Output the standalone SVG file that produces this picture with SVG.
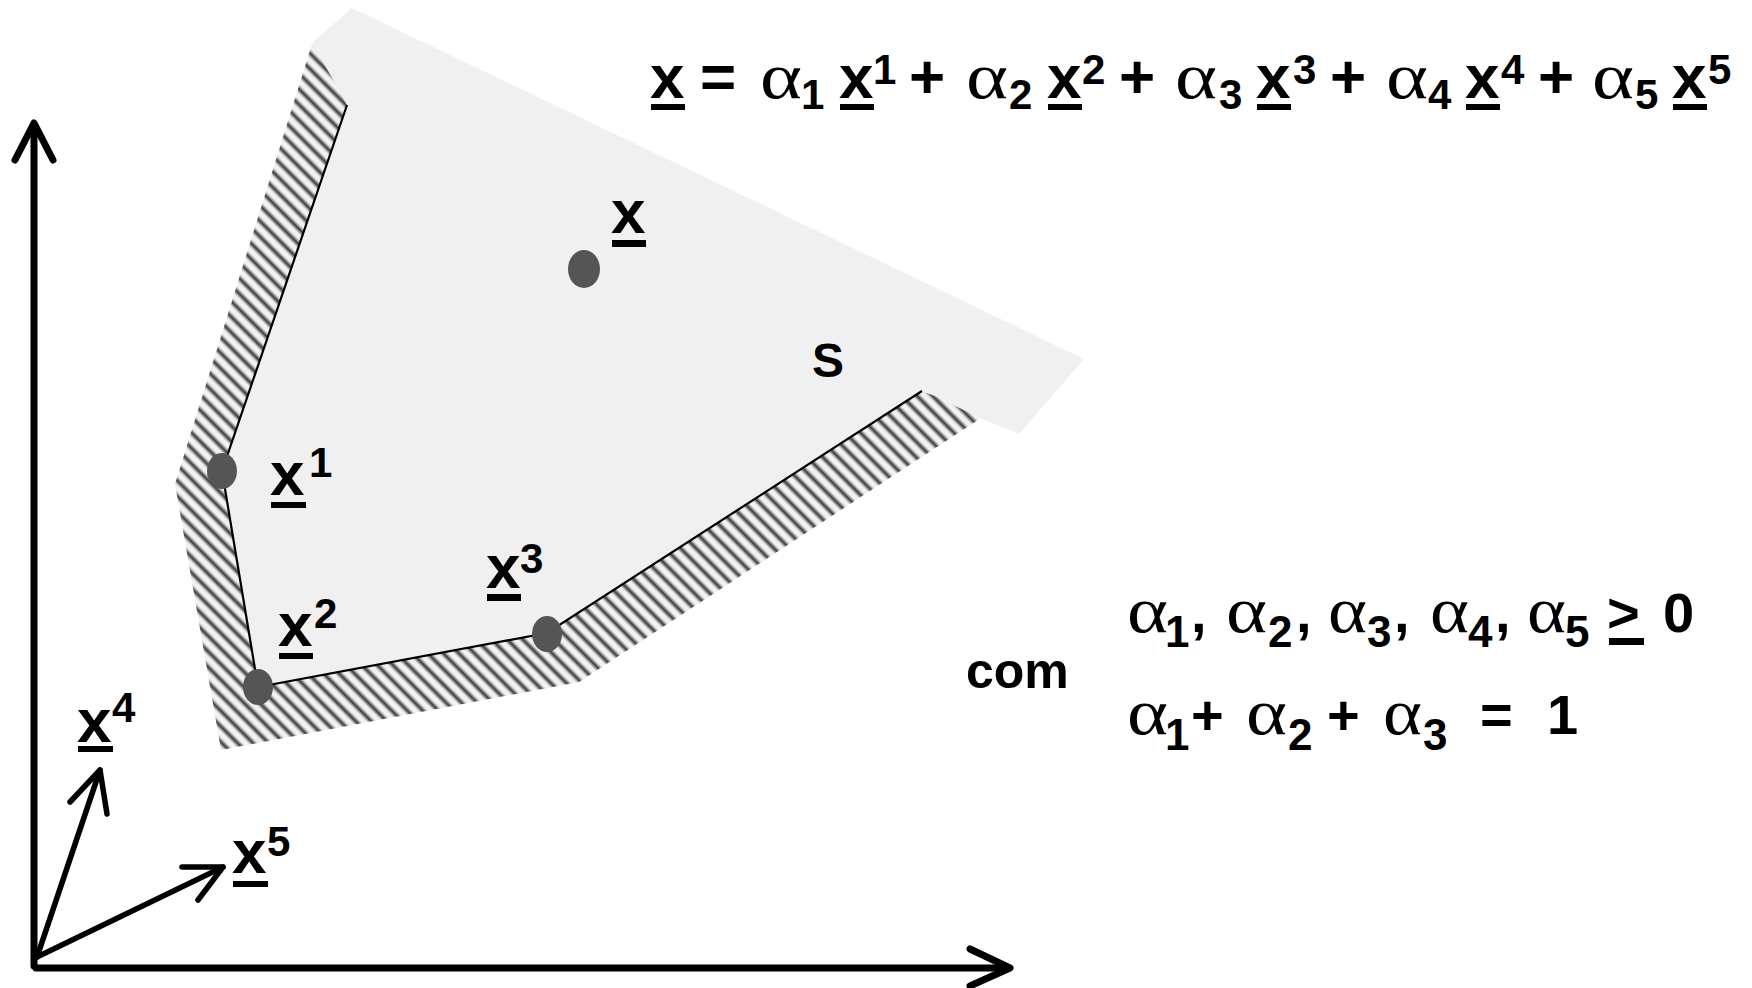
<svg xmlns="http://www.w3.org/2000/svg" width="1752" height="988" viewBox="0 0 1752 988">
<style>
  .b { font-family: "Liberation Sans", Arial, sans-serif; font-weight: bold; fill: #000; }
  .m { font-size: 62px; }
  .sup { font-size: 42px; }
  .sub { font-size: 42px; }
  .a { font-family: "Liberation Serif", "Times New Roman", serif; font-weight: normal; font-size: 66px; fill: #000; }
  .ul { fill: #000; }
  .axis { fill: none; stroke: #000; stroke-width: 7; stroke-linecap: round; stroke-linejoin: round; }
  .vec { fill: none; stroke: #000; stroke-width: 5.5; stroke-linecap: round; stroke-linejoin: round; }
  .dot { fill: #555; }
</style>
<defs>
  <linearGradient id="stripeGrad" x1="0" y1="0" x2="1" y2="0">
    <stop offset="0" stop-color="#f2f2f2"/>
    <stop offset="0.18" stop-color="#f2f2f2"/>
    <stop offset="0.5" stop-color="#3a3a3a"/>
    <stop offset="0.82" stop-color="#f2f2f2"/>
    <stop offset="1" stop-color="#f2f2f2"/>
  </linearGradient>
  <pattern id="hatch" width="11" height="11" patternUnits="userSpaceOnUse" patternTransform="rotate(-45)">
    <rect width="11" height="11" fill="url(#stripeGrad)"/>
  </pattern>
</defs>
<rect width="1752" height="988" fill="#fff"/>

<g id="region-S">
  <polygon points="312,44 360,90 347,105 222,471 258,687 547,633 922,391 990,415 981,418 579,682 221,750 175,484" fill="url(#hatch)"/>
  <polygon points="352,8 1084,359 1019,434 982,419 935,396 922,391 547,633 258,687 222,471 347,105 335,83 316,50 313,42" fill="#f0f0f0"/>
  <polyline points="347,105 222,471 258,687 547,633 922,391" fill="none" stroke="#000" stroke-width="2.2"/>
  <text class="b" x="812" y="377" font-size="48">S</text>
</g>

<g id="connectors">
  <polyline class="axis" points="34,125 34,966"/>
  <polyline class="axis" points="15,160 34,123 53,160"/>
  <line class="axis" x1="36" y1="968" x2="1008" y2="968" stroke-width="8.5"/>
  <polyline class="axis" points="970,949 1010,968 970,986" stroke-width="8.5"/>
  <line class="vec" x1="37" y1="957" x2="100" y2="770"/>
  <polyline class="vec" points="70,802 100,770 107,814"/>
  <line class="vec" x1="37" y1="957" x2="223" y2="867"/>
  <polyline class="vec" points="182,867 223,867 198,900"/>
</g>

<g id="point-x">
  <ellipse class="dot" cx="584" cy="269" rx="16" ry="19"/>
  <text class="b m" x="611" y="233">x</text>
  <rect class="ul" x="612" y="240" width="34" height="7"/>
</g>

<g id="point-x1">
  <ellipse class="dot" cx="222" cy="471" rx="15" ry="18"/>
  <text class="b m" x="270" y="495">x</text>
  <rect class="ul" x="271" y="502" width="35" height="6"/>
  <text class="b sup" x="309" y="477">1</text>
</g>

<g id="point-x2">
  <ellipse class="dot" cx="258" cy="687" rx="15" ry="18"/>
  <text class="b m" x="278" y="646">x</text>
  <rect class="ul" x="279" y="653" width="34" height="6"/>
  <text class="b sup" x="314" y="628">2</text>
</g>

<g id="point-x3">
  <ellipse class="dot" cx="547" cy="634" rx="15" ry="18"/>
  <text class="b m" x="486" y="588">x</text>
  <rect class="ul" x="487" y="594" width="34" height="7"/>
  <text class="b sup" x="520" y="573">3</text>
</g>

<g id="vector-x4">
  <text class="b m" x="77" y="742">x</text>
  <rect class="ul" x="78" y="746" width="35" height="6"/>
  <text class="b sup" x="112" y="722">4</text>
</g>

<g id="vector-x5">
  <text class="b m" x="232" y="873">x</text>
  <rect class="ul" x="233" y="881" width="35" height="6"/>
  <text class="b sup" x="267" y="856">5</text>
</g>

<g id="equation">
  <text class="b m" x="650" y="98">x</text>
  <rect class="ul" x="651" y="104" width="34" height="6"/>
  <text class="b m" x="700" y="98">=</text>
  <text class="a" x="760" y="98" textLength="42" lengthAdjust="spacingAndGlyphs">α</text>
  <text class="b sub" x="801" y="109">1</text>
  <text class="b m" x="839" y="98">x</text>
  <rect class="ul" x="840" y="104" width="34" height="6"/>
  <text class="b sup" x="873" y="84">1</text>
  <text class="b m" x="909" y="98">+</text>
  <text class="a" x="966" y="98" textLength="42" lengthAdjust="spacingAndGlyphs">α</text>
  <text class="b sub" x="1009" y="109">2</text>
  <text class="b m" x="1047" y="98">x</text>
  <rect class="ul" x="1048" y="104" width="34" height="6"/>
  <text class="b sup" x="1082" y="84">2</text>
  <text class="b m" x="1119" y="98">+</text>
  <text class="a" x="1175" y="98" textLength="42" lengthAdjust="spacingAndGlyphs">α</text>
  <text class="b sub" x="1219" y="109">3</text>
  <text class="b m" x="1256" y="98">x</text>
  <rect class="ul" x="1257" y="104" width="34" height="6"/>
  <text class="b sup" x="1293" y="84">3</text>
  <text class="b m" x="1330" y="98">+</text>
  <text class="a" x="1386" y="98" textLength="42" lengthAdjust="spacingAndGlyphs">α</text>
  <text class="b sub" x="1428" y="109">4</text>
  <text class="b m" x="1465" y="98">x</text>
  <rect class="ul" x="1466" y="104" width="34" height="6"/>
  <text class="b sup" x="1501" y="84">4</text>
  <text class="b m" x="1538" y="98">+</text>
  <text class="a" x="1592" y="98" textLength="42" lengthAdjust="spacingAndGlyphs">α</text>
  <text class="b sub" x="1635" y="109">5</text>
  <text class="b m" x="1672" y="98">x</text>
  <rect class="ul" x="1673" y="104" width="34" height="6"/>
  <text class="b sup" x="1708" y="84">5</text>
</g>

<g id="conditions">
  <text class="b" x="966" y="688" font-size="50">com</text>
  <text class="a" x="1127" y="632" textLength="41" lengthAdjust="spacingAndGlyphs">α</text>
  <text class="b" x="1165" y="647" font-size="44">1</text>
  <text class="b" x="1191" y="632" font-size="56">,</text>
  <text class="a" x="1226" y="632" textLength="41" lengthAdjust="spacingAndGlyphs">α</text>
  <text class="b" x="1268" y="647" font-size="44">2</text>
  <text class="b" x="1296" y="632" font-size="56">,</text>
  <text class="a" x="1328" y="632" textLength="39" lengthAdjust="spacingAndGlyphs">α</text>
  <text class="b" x="1367" y="647" font-size="44">3</text>
  <text class="b" x="1394" y="632" font-size="56">,</text>
  <text class="a" x="1430" y="632" textLength="39" lengthAdjust="spacingAndGlyphs">α</text>
  <text class="b" x="1468" y="647" font-size="44">4</text>
  <text class="b" x="1495" y="632" font-size="56">,</text>
  <text class="a" x="1527" y="632" textLength="39" lengthAdjust="spacingAndGlyphs">α</text>
  <text class="b" x="1565" y="647" font-size="44">5</text>
  <text class="b" x="1607" y="632" font-size="56">&gt;</text>
  <rect class="ul" x="1609" y="638" width="35" height="7"/>
  <text class="b" x="1663" y="632" font-size="56">0</text>

  <text class="a" x="1127" y="734" textLength="41" lengthAdjust="spacingAndGlyphs">α</text>
  <text class="b" x="1165" y="750" font-size="44">1</text>
  <text class="b" x="1191" y="734" font-size="56">+</text>
  <text class="a" x="1246" y="734" textLength="41" lengthAdjust="spacingAndGlyphs">α</text>
  <text class="b" x="1288" y="750" font-size="44">2</text>
  <text class="b" x="1327" y="734" font-size="56">+</text>
  <text class="a" x="1383" y="734" textLength="39" lengthAdjust="spacingAndGlyphs">α</text>
  <text class="b" x="1423" y="750" font-size="44">3</text>
  <text class="b" x="1480" y="734" font-size="56">=</text>
  <text class="b" x="1547" y="734" font-size="56">1</text>
</g>
</svg>
